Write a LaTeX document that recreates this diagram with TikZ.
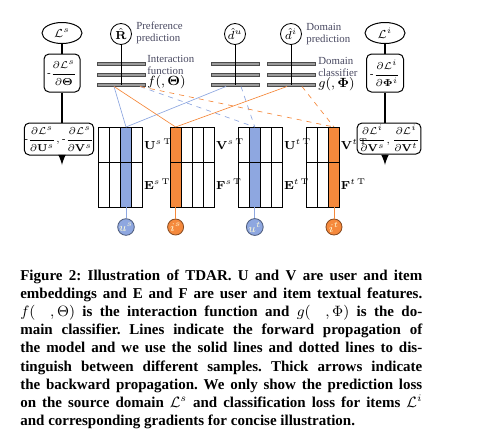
\documentclass[tikz,border=0pt]{standalone}
\usepackage[no-math]{fontspec}
\setmainfont{Liberation Serif}
\usepackage{amsmath}
\usetikzlibrary{shapes, arrows, positioning}
\definecolor{embblue}{RGB}{142,167,224}
\definecolor{emborange}{RGB}{245,137,60}
\definecolor{notegray}{RGB}{72,72,96}
\definecolor{bargray}{RGB}{155,155,155}
\tikzset{
	grad/.style={draw,rounded corners=3pt,line width=0.6pt,inner sep=0pt,font=\fontsize{6.5}{7}\selectfont},
	loss/.style={draw,ellipse,line width=0.6pt,inner sep=0pt,minimum width=24pt,minimum height=12.6pt,font=\fontsize{7}{8}\selectfont},
	pred/.style={draw,circle,line width=0.5pt,inner sep=0pt,minimum size=12.6pt,font=\fontsize{7}{8}\selectfont},
	bar/.style={draw=black!70,fill=bargray,line width=0.4pt},
	back/.style={line width=1.1pt},
	note/.style={align=left,inner sep=0pt,text=notegray,font=\fontsize{6.5}{7.2}\selectfont},
	fwdblue/.style={embblue,line width=0.4pt},
	fwdorange/.style={emborange,line width=0.4pt},
	caption/.style={anchor=base west,inner sep=0pt,font=\fontsize{9}{10}\selectfont\bfseries}
}
\frenchspacing
\begin{document}
\begin{tikzpicture}[x=0.6pt,y=-0.6pt]
		\useasboundingbox (0,0) rectangle (492,444);
		\def\w{11.2}
		% backward propagation, source side
		\node[loss] (Ls) at (62,33) {$\mathcal{L}^s$};
		\node[grad,minimum width=21.6pt,minimum height=22.8pt] (dTheta) at (62,73) {$\text{-}\dfrac{\partial\mathcal{L}^s}{\partial\mathbf{\Theta}}$};
		\node[grad,minimum width=40.8pt,minimum height=19.2pt] (dUV) at (59,139) {$\text{-}\dfrac{\partial\mathcal{L}^s}{\partial\mathbf{U}^s},\text{-}\dfrac{\partial\mathcal{L}^s}{\partial\mathbf{V}^s}$};
		\coordinate (arrS) at (62,165);
		\draw[back] (Ls) -- (dTheta);
		\draw[back] (dTheta.south) -- (dTheta.south |- dUV.north);
		\draw[back,-latex] (dUV.south -| dTheta) -- (arrS);
		% backward propagation, items
		\node[loss] (Li) at (385,33) {$\mathcal{L}^i$};
		\node[grad,minimum width=22.2pt,minimum height=22.8pt] (dPhi) at (385,73) {$\text{-}\dfrac{\partial\mathcal{L}^i}{\partial\mathbf{\Phi}^i}$};
		\node[grad,minimum width=32.4pt,minimum height=18.6pt,inner xsep=0.8pt,font=\fontsize{5.8}{6.5}\selectfont] (dV) at (389,138.5) {$\dfrac{\partial\mathcal{L}^i}{\partial\mathbf{V}^s},\dfrac{\partial\mathcal{L}^i}{\partial\mathbf{V}^t}$};
		\coordinate (arrI) at (385,165);
		\draw[back] (Li) -- (dPhi);
		\draw[back] (dPhi.south) -- (dPhi.south |- dV.north);
		\draw[back,-latex] (dV.south -| dPhi) -- (arrI);
		% interaction function and domain classifier
		\foreach \c in {121,235,291}{
			\foreach \y in {64,74.5,84.5}{
				\draw[bar] (\c-24,\y-1.6) rectangle (\c+24,\y+1.6);
			}
		}
		\node[pred] (Rhat) at (121,34) {$\hat{\mathbf{R}}$};
		\node[pred] (du) at (235,34) {$\hat{d}^u$};
		\node[pred] (di) at (291,34) {$\hat{d}^i$};
		\coordinate (fbot) at (121,84.5);
		\coordinate (dubot) at (235,84.5);
		\coordinate (dibot) at (291,84.5);
		\draw[line width=0.5pt] (Rhat) -- (fbot);
		\draw[line width=0.5pt] (du) -- (dubot);
		\draw[line width=0.5pt] (di) -- (dibot);
		\node[note,anchor=west] (prefnote) at (136,33) {Preference\\prediction};
		\node[note,anchor=west] (domnote) at (306,34.5) {Domain\\prediction};
		\node[note,anchor=west] (fnote) at (147,72) {Interaction\\function\\[-1pt]{\color{black}\fontsize{8}{8}\selectfont$f(,\mathbf{\Theta})$}};
		\node[note,anchor=west] (gnote) at (318,74) {Domain\\classifier\\[-1pt]{\color{black}\fontsize{8}{8}\selectfont$g(,\mathbf{\Phi})$}};
		% embeddings and textual features
		\foreach \n/\x/\k/\m/\c/\top/\bot/\d/\id in {1/98/4/3/embblue/U/E/s/u, 2/170/4/1/emborange/V/F/s/i, 3/238/4/2/embblue/U/E/t/u, 4/306/3/3/emborange/V/F/t/i}{
			\fill[\c] (\x+\m*\w-\w,127) rectangle (\x+\m*\w,207);
			\foreach \j in {0,...,\k}{
				\draw[line width=0.6pt] (\x+\j*\w,127) -- (\x+\j*\w,207);
			}
			\foreach \y in {127,162,207}{
				\draw[line width=0.6pt] (\x,\y) -- (\x+\k*\w,\y);
			}
			\coordinate (top\n) at (\x+\m*\w-0.5*\w,127);
			\coordinate (bot\n) at (\x+\m*\w-0.5*\w,207);
			\node[anchor=west,inner sep=0pt,font=\fontsize{7}{8}\selectfont] (emb\n) at (\x+\k*\w+1,144) {$\mathbf{\top}^{\d\,\mathrm{T}}$};
			\node[anchor=west,inner sep=0pt,font=\fontsize{7}{8}\selectfont] (feat\n) at (\x+\k*\w+1,184) {$\mathbf{\bot}^{\d\,\mathrm{T}}$};
			\node[draw=\c!55!black,fill=\c,circle,inner sep=0pt,minimum size=9.6pt,line width=0.5pt,text=yellow!15] (id\n) at (\x+\m*\w-0.5*\w,227) {$\scriptstyle \id^{\d}$};
			\draw[\c,line width=0.5pt] (bot\n) -- (id\n);
		}
		% forward propagation
		\coordinate (fS) at (114,86.5);
		\coordinate (fD) at (140,86.5);
		\coordinate (duS) at (226,86.5);
		\coordinate (duD) at (241,86.5);
		\coordinate (diS) at (287,86.5);
		\coordinate (diD) at (302,86.5);
		\draw[fwdblue] (fS) -- (top1);
		\draw[fwdblue] (duS) -- (top1);
		\draw[fwdorange] (fS) -- (top2);
		\draw[fwdorange] (diS) -- (top2);
		\draw[fwdblue,dashed] (fD) -- (top3);
		\draw[fwdblue,dashed] (duD) -- (top3);
		\draw[fwdorange,dashed] (fD) -- (top4);
		\draw[fwdorange,dashed] (diD) -- (top4);
		% caption
		\foreach [count=\i] \txt in {{Figure 2: Illustration of TDAR. U and V are user and item},
			{embeddings and E and F are user and item textual features.},
			{$f(\ \ ,\Theta)$ is the interaction function and $g(\ \ ,\Phi)$ is the do-},
			{main classifier. Lines indicate the forward propagation of},
			{the model and we use the solid lines and dotted lines to dis-},
			{tinguish between different samples. Thick arrows indicate},
			{the backward propagation. We only show the prediction loss},
			{on the source domain $\mathcal{L}^s$ and classification loss for items $\mathcal{L}^i$}}{
			\node[caption] (cap\i) at (20,280+18.2*\i-18.2) {\makebox[241.2pt][s]{\txt}};
		}
		\node[caption] (cap9) at (20,425.6) {and corresponding gradients for concise illustration.};
	\end{tikzpicture}
\end{document}
